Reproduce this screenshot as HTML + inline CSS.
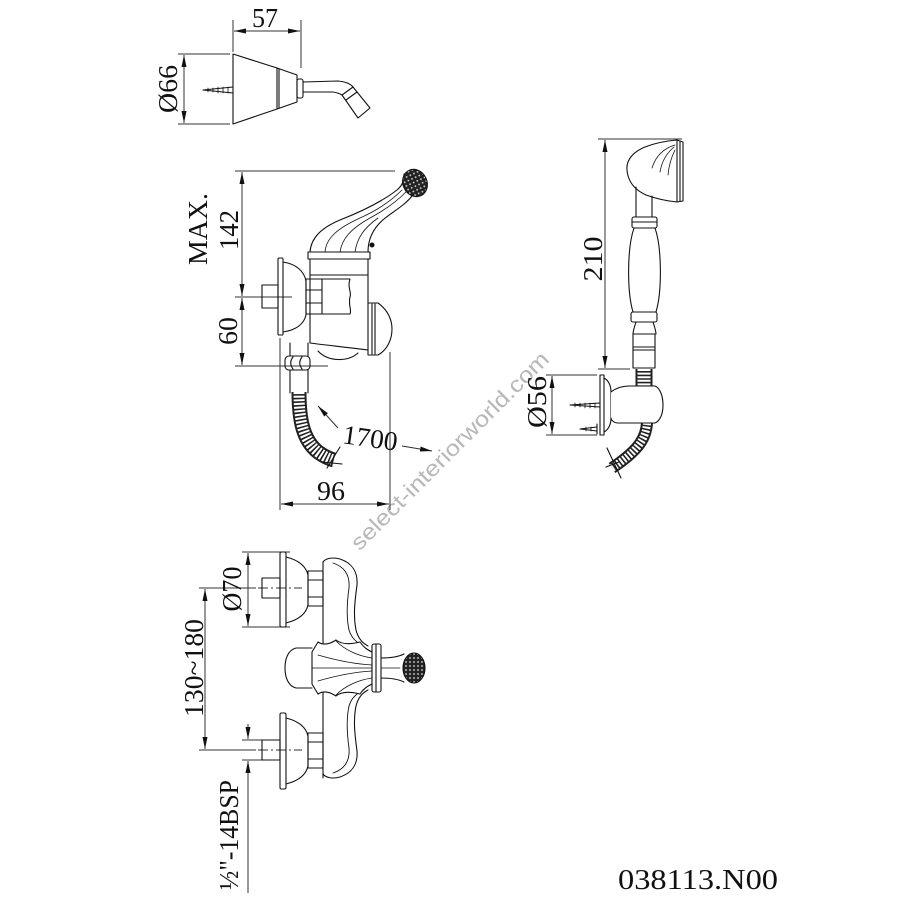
<!DOCTYPE html>
<html><head><meta charset="utf-8"><style>html,body{margin:0;padding:0;background:#fff}svg{display:block}</style></head>
<body>
<svg width="900" height="900" viewBox="0 0 900 900" xmlns="http://www.w3.org/2000/svg">
<defs>
<marker id="ar" viewBox="0 0 12 5" refX="12" refY="2.5" markerWidth="12" markerHeight="5" markerUnits="userSpaceOnUse" orient="auto-start-reverse"><path d="M0,0 L12,2.5 L0,5 Z" fill="#111"/></marker>
<pattern id="cr" width="4" height="4" patternUnits="userSpaceOnUse"><rect width="4" height="4" fill="#222"/><circle cx="2" cy="2" r="0.9" fill="#ddd"/></pattern>
</defs>
<rect width="900" height="900" fill="#fff"/>

<!-- watermark -->
<text transform="translate(455,456) rotate(-45)" text-anchor="middle" font-family="Liberation Sans, sans-serif" font-size="22" fill="#b8b8b8" textLength="270" lengthAdjust="spacingAndGlyphs">select-interiorworld.com</text>

<!-- ============ DIMENSION LINES ============ -->
<g stroke="#333" stroke-width="1" fill="none">
  <line x1="233" y1="20" x2="233" y2="52"/>
  <line x1="301" y1="20" x2="301" y2="68"/>
  <line x1="234" y1="31" x2="300" y2="31" marker-start="url(#ar)" marker-end="url(#ar)"/>
  <line x1="178" y1="54" x2="230" y2="54"/>
  <line x1="178" y1="124" x2="230" y2="124"/>
  <line x1="184" y1="55" x2="184" y2="123" marker-start="url(#ar)" marker-end="url(#ar)"/>
  <line x1="235" y1="171" x2="395" y2="171"/>
  <line x1="242" y1="172" x2="242" y2="296" marker-start="url(#ar)" marker-end="url(#ar)"/>
  <line x1="242" y1="298" x2="242" y2="365" marker-start="url(#ar)" marker-end="url(#ar)"/>
  <line x1="235" y1="297" x2="292" y2="297"/>
  <line x1="235" y1="366" x2="328" y2="366"/>
  <line x1="280" y1="338" x2="280" y2="510"/>
  <line x1="390" y1="352" x2="390" y2="510"/>
  <line x1="281" y1="504" x2="389" y2="504" marker-start="url(#ar)" marker-end="url(#ar)"/>
  <line x1="338" y1="428" x2="318" y2="406" marker-end="url(#ar)"/>
  <line x1="402" y1="446" x2="432" y2="451" marker-end="url(#ar)"/>
  <line x1="598" y1="139" x2="682" y2="139"/>
  <line x1="605" y1="140" x2="605" y2="368" marker-start="url(#ar)" marker-end="url(#ar)"/>
  <line x1="598" y1="369" x2="630" y2="369"/>
  <line x1="546" y1="375" x2="597" y2="375"/>
  <line x1="546" y1="435" x2="597" y2="435"/>
  <line x1="552" y1="376" x2="552" y2="434" marker-start="url(#ar)" marker-end="url(#ar)"/>
  <line x1="242" y1="552" x2="290" y2="552"/>
  <line x1="242" y1="627" x2="290" y2="627"/>
  <line x1="248" y1="553" x2="248" y2="626" marker-start="url(#ar)" marker-end="url(#ar)"/>
  <line x1="199" y1="588" x2="256" y2="588"/>
  <line x1="258" y1="588" x2="302" y2="588" stroke-dasharray="10 3 2 3"/>
  <line x1="199" y1="750" x2="256" y2="750"/>
  <line x1="258" y1="750" x2="302" y2="750" stroke-dasharray="10 3 2 3"/>
  <line x1="205" y1="589" x2="205" y2="749" marker-start="url(#ar)" marker-end="url(#ar)"/>
  <line x1="242" y1="740" x2="262" y2="740"/>
  <line x1="242" y1="760" x2="262" y2="760"/>
  <line x1="248" y1="724" x2="248" y2="739" marker-end="url(#ar)"/>
  <line x1="248" y1="893" x2="248" y2="761" marker-end="url(#ar)"/>
</g>

<!-- ============ DRAWINGS ============ -->
<g stroke="#111" stroke-width="1.1" fill="none" stroke-linejoin="round" stroke-linecap="round">
  <path d="M233,54 L277,68 L277,109 L233,124 Z"/>
  <path d="M279,69 L279,108"/>
  <path d="M277,68 L297,75 L297,102 L277,109"/>
  <rect x="297" y="79" width="6" height="19" rx="2"/>
  <path d="M303,82 L338,81 Q349,82 353,87"/>
  <path d="M303,92 L333,92 Q339,93 342,95"/>
  <path d="M342,95 L353,87 L370,108 L358,118 Z"/>
  <path d="M346,100 L357,92"/>
  <path d="M203,90 L233,87 M203,90 L233,93"/>
  <path d="M208,88 l0,4 M213,88 l0,4 M218,87 l0,6 M223,87 l0,6 M228,87 l0,6" stroke-width="0.8"/>

  <rect x="278" y="258" width="5" height="77" rx="1"/>
  <path d="M283,262 C296,264 304,271 306,281 L306,315 C304,324 296,330 283,332"/>
  <rect x="262" y="285" width="16" height="23"/>
  <path d="M306,279 L322,279 L322,314 L306,314 Z"/>
  <path d="M306,290 L322,290 M306,303 L322,303"/>
  <path d="M310,259 L310,343"/>
  <path d="M368,259 L368,303"/>
  <path d="M310,275 L368,275"/>
  <path d="M322,279 L350,279 C347,288 352,292 350,297 C348,305 352,310 350,314 L322,314"/>
  <path d="M310,343 C325,345 345,347 368,350"/>
  <path d="M318,351 C328,362 348,362 358,353"/>
  <path d="M368,303 L378,303 C388,310 392,320 392,329 C392,340 387,350 378,355 L368,355 Z"/>
  <path d="M372,304 L372,354 M375,304 L375,354"/>
  <rect x="308" y="252" width="62" height="7"/>
  <path d="M310,252 C311,238 321,228 340,220 C363,211 384,200 397,190 C403,185 404,180 404,174"/>
  <path d="M368,252 C368,240 372,229 384,219 C394,211 405,205 412,196"/>
  <path d="M325,252 C326,238 338,228 360,218 C378,210 392,200 402,190" stroke-width="0.8"/>
  <path d="M340,252 C342,238 352,228 370,218 C385,210 398,200 406,192" stroke-width="0.8"/>
  <path d="M355,252 C357,238 364,228 378,218" stroke-width="0.8"/>
  <circle cx="372" cy="245" r="2" fill="#111"/>
  <ellipse cx="415" cy="183" rx="12" ry="14" transform="rotate(-25 415 183)" fill="url(#cr)"/>
  <path d="M290,343 L290,356 M308,343 L308,356"/>
  <rect x="285" y="356" width="25" height="14" rx="4"/>
  <path d="M293,357 C290,361 290,365 293,369 M302,357 C299,361 299,365 302,369"/>
  <path d="M290,370 L290,393 M308,370 L308,393"/>
</g>

<path d="M299,392 C299,420 303,440 318,452 C325,457 330,459 334,460" stroke="#222" stroke-width="15" fill="none"/>
<path d="M299,392 C299,420 303,440 318,452 C325,457 330,459 334,460" stroke="#fff" stroke-width="11" fill="none" stroke-dasharray="2 1.6"/>
<path d="M644,369 L644,387" stroke="#222" stroke-width="17" fill="none"/>
<path d="M644,369 L644,387" stroke="#fff" stroke-width="13" fill="none" stroke-dasharray="2 1.6"/>
<path d="M647,423 C646,440 636,452 612,468" stroke="#222" stroke-width="12" fill="none"/>
<path d="M647,423 C646,440 636,452 612,468" stroke="#fff" stroke-width="8" fill="none" stroke-dasharray="2 1.6"/>

<g stroke="#111" stroke-width="1.1" fill="none" stroke-linejoin="round" stroke-linecap="round">
  <path d="M327,468 L340,447 M322,462 L342,464"/>

  <path d="M677,140 L683,142 L683,201 L677,202 Z" fill="#fff"/>
  <path d="M680,142 L680,201"/>
  <path d="M677,140 C665,141 655,143 645,147 C633,152 626,160 627,170 C628,182 635,190 646,195 C657,199 667,201 677,202"/>
  <path d="M675,145 C665,148 656,155 652,168 M674,147 C668,152 662,160 660,172 M675,150 C672,156 669,164 668,175" stroke-width="0.8"/>
  <path d="M636,187 L636,217 M652,196 L652,217"/>
  <rect x="632" y="217" width="25" height="11" rx="2" fill="#fff"/>
  <path d="M632,222 L657,222"/>
  <path d="M634,228 C627,248 627,292 633,312 L656,312 C662,292 662,248 655,228"/>
  <rect x="631" y="312" width="26" height="10" rx="2" fill="#fff"/>
  <path d="M636,322 C634,328 633,331 633,334 M653,322 C655,328 656,331 656,334"/>
  <rect x="633" y="334" width="22" height="34" fill="#fff"/>
  <path d="M633,347 L655,347 M633,350 L655,350"/>
  <rect x="600" y="375" width="4" height="60"/>
  <path d="M604,378 C608,380 611,385 611,392 L611,418 C611,425 608,430 604,432"/>
  <path d="M611,392 C616,388 622,386 630,386 L655,386 C660,388 663,396 663,405 C663,414 660,421 655,423 L618,423 C614,423 611,420 611,418" fill="#fff"/>
  <path d="M570,405 L600,403 M570,405 L600,407"/>
  <path d="M575,403 l0,4 M580,403 l0,4 M585,403 l0,5 M590,403 l0,5 M595,403 l0,5" stroke-width="0.8"/>
  <path d="M580,429 L597,427 M580,429 L597,431 M597,424 L597,434"/>
  <path d="M586,427 l0,4 M591,427 l0,4" stroke-width="0.8"/>
  <path d="M607,448 L621,478 M606,467 L619,462"/>

  <rect x="280" y="552" width="6" height="75" rx="1.5"/>
  <path d="M286,557 C298,560 306,566 308,575 L308,605 C306,614 298,620 286,623"/>
  <rect x="262" y="578" width="18" height="20"/>
  <path d="M308,571 L323,571 L323,606 L308,606 Z"/>
  <path d="M308,580 L323,580 M308,597 L323,597"/>
  <rect x="280" y="713" width="6" height="76" rx="1.5"/>
  <path d="M286,718 C298,721 306,727 308,736 L308,766 C306,775 298,781 286,784"/>
  <rect x="262" y="740" width="18" height="20"/>
  <path d="M308,733 L323,733 L323,768 L308,768 Z"/>
  <path d="M308,742 L323,742 M308,759 L323,759"/>
  <path d="M323,562 L323,778"/>
  <path d="M323,562 C326,558 333,557 340,559 C352,563 358,572 357,585 C355,600 353,615 356,630 C358,638 362,643 368,646"/>
  <path d="M333,563 C345,567 350,576 349,588 C347,602 346,616 349,630 C351,637 355,641 360,644" stroke-width="0.9"/>
  <path d="M323,774 C326,778 333,779 340,777 C352,773 358,764 357,751 C355,736 353,721 356,706 C358,698 362,693 368,690"/>
  <path d="M333,773 C345,769 350,760 349,748 C347,734 346,720 349,706 C351,699 355,695 360,692" stroke-width="0.9"/>
  <path d="M312,648 L296,648 C288,650 285,659 285,668 C285,677 288,686 296,688 L312,688" fill="#fff"/>
  <path d="M312,652 L318,642 C324,646 330,644 336,640 C342,645 352,644 360,642 C364,648 368,650 372,652 L372,684 C368,686 364,688 360,694 C352,692 342,691 336,696 C330,692 324,690 318,694 L312,684 Z" fill="#fff"/>
  <path d="M318,655 C335,660 355,664 372,665 M318,681 C335,676 355,672 372,671 M312,668 L400,668" stroke-width="0.8"/>
  <path d="M336,641 C345,650 358,656 372,658 M336,695 C345,686 358,680 372,678" stroke-width="0.8"/>
  <rect x="372" y="644" width="9" height="48" rx="2" fill="#fff"/>
  <path d="M376,644 L376,692"/>
  <path d="M381,658 C390,658 398,657 404,654 M381,678 C390,678 398,679 404,682"/>
  <ellipse cx="414" cy="668" rx="11" ry="15" fill="url(#cr)"/>
</g>

<g font-family="Liberation Serif, serif" font-size="27" fill="#111">
  <text x="265" y="27" text-anchor="middle" textLength="26" lengthAdjust="spacingAndGlyphs">57</text>
  <text transform="translate(177,89) rotate(-90)" text-anchor="middle" textLength="48" lengthAdjust="spacingAndGlyphs">Ø66</text>
  <text transform="translate(207,229) rotate(-90)" text-anchor="middle" textLength="72" lengthAdjust="spacingAndGlyphs">MAX.</text>
  <text transform="translate(238,230) rotate(-90)" text-anchor="middle" textLength="40" lengthAdjust="spacingAndGlyphs">142</text>
  <text transform="translate(237,331) rotate(-90)" text-anchor="middle" textLength="28" lengthAdjust="spacingAndGlyphs">60</text>
  <text transform="translate(369,447) rotate(8)" text-anchor="middle" textLength="55" lengthAdjust="spacingAndGlyphs">1700</text>
  <text x="331" y="500" text-anchor="middle" textLength="28" lengthAdjust="spacingAndGlyphs">96</text>
  <text transform="translate(602,259) rotate(-90)" text-anchor="middle" textLength="45" lengthAdjust="spacingAndGlyphs">210</text>
  <text transform="translate(546,402) rotate(-90)" text-anchor="middle" textLength="52" lengthAdjust="spacingAndGlyphs">Ø56</text>
  <text transform="translate(241,589) rotate(-90)" text-anchor="middle" textLength="45" lengthAdjust="spacingAndGlyphs">Ø70</text>
  <text transform="translate(203,668) rotate(-90)" text-anchor="middle" textLength="98" lengthAdjust="spacingAndGlyphs">130~180</text>
  <text transform="translate(238,835) rotate(-90)" text-anchor="middle" textLength="110" lengthAdjust="spacingAndGlyphs">½"-14BSP</text>
  <text x="618" y="889" font-size="29" textLength="160" lengthAdjust="spacingAndGlyphs">038113.N00</text>
</g>
</svg>
</body></html>
